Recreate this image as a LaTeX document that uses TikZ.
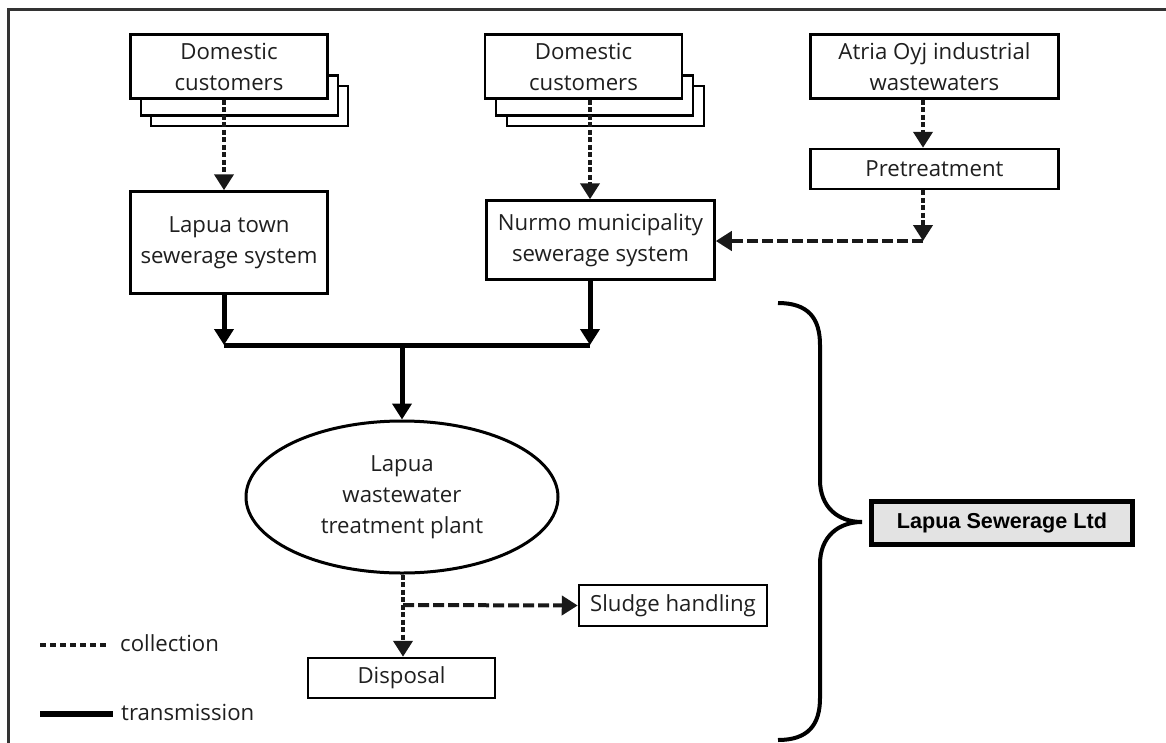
\documentclass[tikz,border=0pt]{standalone}
\usepackage{fontspec}
\setmainfont{Open Sans}
\newfontfamily\arialfont{Liberation Sans}
\usetikzlibrary{arrows.meta,shapes.geometric}
\tikzset{
  every node/.style={font=\fontsize{22.2}{31}\selectfont, text=black!88},
  boxnode/.style={draw, line width=2.5pt, fill=white, align=center, inner sep=0pt},
  collv/.style={line width=4pt, dash pattern=on 5pt off 2.5pt, color=black!90},
  collh/.style={line width=4pt, dash pattern=on 11pt off 4pt, color=black!90},
  trans/.style={line width=5pt},
  tip/.style={-{Triangle[width=19pt,length=16pt]}},
}
\begin{document}
\begin{tikzpicture}[x=1pt,y=-1pt]
\useasboundingbox (0,0) rectangle (1166,742);
% frame
\draw[line width=3pt, color=black!80] (8,745) -- (8,9) -- (1170,9);

% domestic customers 1
\node[boxnode, minimum width=197pt, minimum height=40pt] (d1c) at (249.5,106) {};
\node[boxnode, minimum width=197pt, minimum height=40pt] (d1b) at (239.5,95.5) {};
\node[boxnode, minimum width=197pt, minimum height=64pt] (d1) at (229,66.5) {Domestic\\customers};
% domestic customers 2
\node[boxnode, minimum width=197pt, minimum height=40pt] (d2c) at (605.5,106) {};
\node[boxnode, minimum width=197pt, minimum height=40pt] (d2b) at (594.5,95.5) {};
\node[boxnode, minimum width=197pt, minimum height=64pt] (d2) at (583.5,66.5) {Domestic\\customers};

\node[boxnode, minimum width=248pt, minimum height=64pt] (atria) at (934.5,66.5) {Atria Oyj industrial\\wastewaters};
\node[boxnode, minimum width=248pt, minimum height=40pt] (pre) at (934.5,169) {Pretreatment};

\node[boxnode, minimum width=197pt, minimum height=102pt] (town) at (229,242.5) {Lapua town\\sewerage system};
\node[boxnode, minimum width=228pt, minimum height=79pt] (nurmo) at (600.5,240) {Nurmo municipality\\sewerage system};

\node[draw, ellipse, line width=3pt, minimum width=312pt, minimum height=152pt, align=center, inner sep=0pt] (wwtp) at (402,497) {Lapua\\wastewater\\treatment plant};

\node[boxnode, minimum width=187pt, minimum height=40pt] (disp) at (401.5,678) {Disposal};
\node[boxnode, minimum width=188pt, minimum height=41pt] (sludge) at (673,605.5) {Sludge handling};

\node[draw, line width=5pt, fill=black!11, minimum width=261pt, minimum height=43pt, inner sep=0pt,
      font=\arialfont\bfseries\fontsize{21.6}{24}\selectfont, text=black] (ltd) at (1002,523) {Lapua Sewerage Ltd};

% coordinates
\coordinate (barL) at (224,345);
\coordinate (barR) at (590,345);
\coordinate (barM) at (402,345);
\coordinate (corner) at (923,241);
\coordinate (branch) at (403,605);

% collection arrows
\draw[collv, tip] (d1.south -| barL) -- (town.north -| barL);
\draw[collv, tip] (d2.south -| barR) -- (nurmo.north -| barR);
\draw[collv, tip] (atria.south -| corner) -- (pre.north -| corner);
\draw[collv, tip] (pre.south -| corner) -- (corner);
\draw[collh, tip] (corner) -- (nurmo.east |- corner);

% transmission
\draw[trans, tip] (town.south -| barL) -- (barL);
\draw[trans, tip] (nurmo.south -| barR) -- (barR);
\draw[trans] (barL) -- (barR);
\draw[trans, tip] (barM) -- (wwtp.north);

% outflow
\draw[collv, tip] (wwtp.south -| branch) -- (disp.north -| branch);
\draw[collh, tip] (branch) -- (sludge.west);

% brace
\coordinate (bracetip) at (862,522);
\draw[line width=4pt] (778,303) .. controls (808,303) and (820,318) .. (820,345)
  -- (820,480) .. controls (820,507) and (838,522) .. (bracetip)
  .. controls (838,522) and (820,537) .. (820,564)
  -- (820,698) .. controls (820,725) and (808,740) .. (778,740);

% legend
\coordinate (lc1) at (40,645); \coordinate (lc2) at (109,645);
\coordinate (lt1) at (40,714); \coordinate (lt2) at (113,714);
\draw[line width=4pt, dash pattern=on 6pt off 4pt, color=black!90] (lc1) -- (lc2);
\node[anchor=west, inner sep=0pt] (lcoll) at (120,643) {collection};
\draw[line width=6pt] (lt1) -- (lt2);
\node[anchor=west, inner sep=0pt] (ltrans) at (121,712) {transmission};
\end{tikzpicture}
\end{document}
